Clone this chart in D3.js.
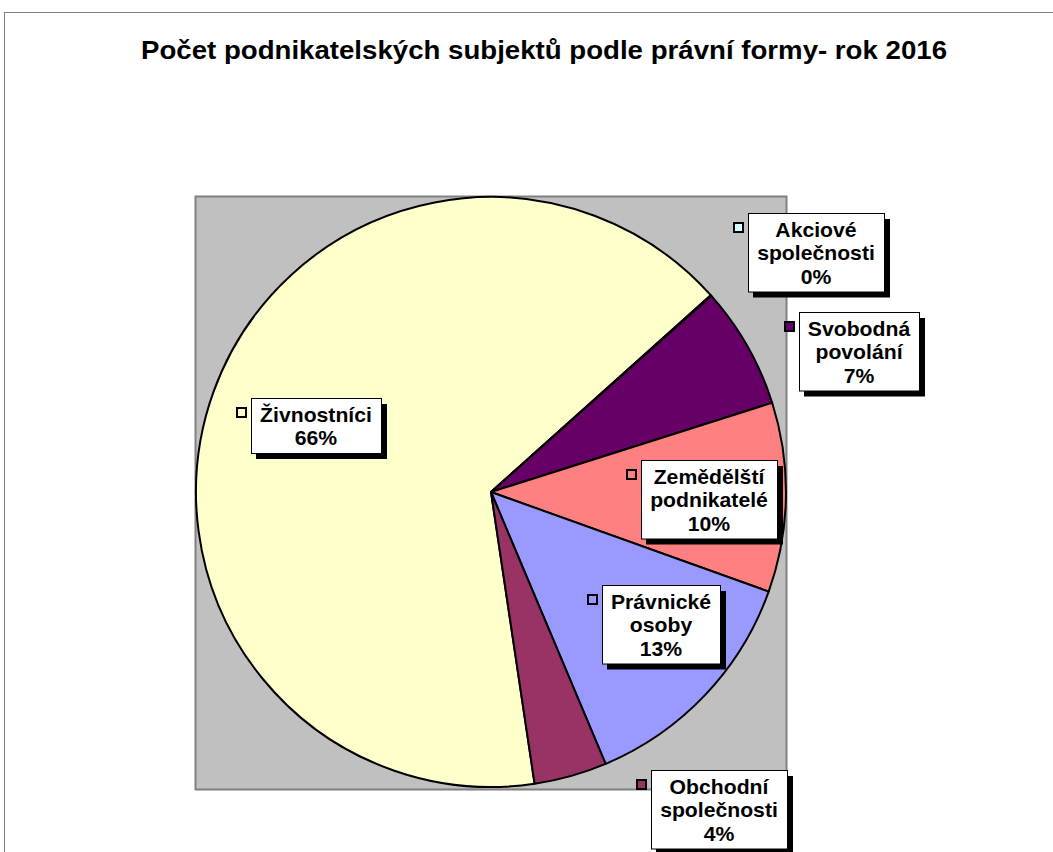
<!DOCTYPE html>
<html>
<head>
<meta charset="utf-8">
<script src="https://cdn.jsdelivr.net/npm/d3@7"></script>
<style>
  body { margin: 0; background: #fff; }
  svg { display: block; font-family: "Liberation Sans", Arial, sans-serif; }
</style>
</head>
<body>
<div id="chart"></div>
<script>
// data
const categories = ["Živnostníci", "Akciové společnosti", "Svobodná povolání", "Zemědělští podnikatelé", "Právnické osoby", "Obchodní společnosti"]
const labelLines = [["Živnostníci"], ["Akciové", "společnosti"], ["Svobodná", "povolání"], ["Zemědělští", "podnikatelé"], ["Právnické", "osoby"], ["Obchodní", "společnosti"]]
const counts = [6590, 5, 670, 1040, 1320, 400]
const colors = ["#FFFFCC", "#CCFFFF", "#660066", "#FF8080", "#9999FF", "#993366"]

// label box layout (top-left corner of each box), like manually placed excel labels
const labelBoxes = {
    "Živnostníci": [251, 398],
    "Akciové společnosti": [748, 213],
    "Svobodná povolání": [799, 312],
    "Zemědělští podnikatelé": [641, 460],
    "Právnické osoby": [602, 585],
    "Obchodní společnosti": [651, 770]
}

let width = 1053, height = 852
let cx = 491, cy = 492, r = 295

let svg = d3.select("#chart").append("svg")
    .attr("width", width)
    .attr("height", height)

// outer chart border
svg.append("rect")
    .attr("x", 4.5).attr("y", 12.5)
    .attr("width", 1100).attr("height", 900)
    .attr("fill", "#fff")
    .attr("stroke", "#808080")
    .attr("stroke-width", 1)

svg.append("text")
    .text("Počet podnikatelských subjektů podle právní formy- rok 2016")
    .attr("x", 544)
    .attr("y", 59)
    .attr("text-anchor", "middle")
    .attr("font-size", 26)
    .attr("font-weight", "bold")
    .attr("textLength", 806)
    .attr("lengthAdjust", "spacingAndGlyphs")
    .attr("fill", "#000")

// plot area
svg.append("rect")
    .attr("x", cx - r - 0.5).attr("y", cy - r - 0.5)
    .attr("width", 2 * r + 1).attr("height", 2 * r + 3)
    .attr("fill", "#C0C0C0")
    .attr("stroke", "#808080")
    .attr("stroke-width", 2)

const total = d3.sum(counts)
const start = 171.5 * Math.PI / 180

let pie = d3.pie().sort(null).value(d => d)
    .startAngle(start).endAngle(start + 2 * Math.PI)
let arc = d3.arc().innerRadius(0).outerRadius(r)

let g = svg.append("g").attr("transform", "translate(" + cx + "," + cy + ")")

g.selectAll(".slice")
    .data(pie(counts))
    .enter().append("path")
    .attr("class", "slice")
    .attr("d", arc)
    .attr("fill", (d, i) => colors[i])
    .attr("stroke", "#000")
    .attr("stroke-width", 2)
    .attr("stroke-linejoin", "round")

// data labels
const lineH = 23.5
categories.forEach((cat, i) => {
    let lines = labelLines[i].concat([Math.round(counts[i] / total * 100) + "%"])
    let [bx, by] = labelBoxes[cat]
    let lg = svg.append("g")
    let shadow = lg.append("rect").attr("fill", "#000")
    let box = lg.append("rect").attr("fill", "#fff").attr("stroke", "#000").attr("stroke-width", 1)
    let texts = lg.selectAll("text").data(lines).enter().append("text")
        .text(d => d)
        .attr("y", (d, j) => by + 24 + j * lineH)
        .attr("text-anchor", "middle")
        .attr("font-size", 20)
        .attr("font-weight", "bold")
        .attr("fill", "#000")
    let maxW = d3.max(texts.nodes(), n => n.getComputedTextLength())
    let bw = Math.round(maxW * 1.06 + 18)
    let bh = lines.length * lineH + 8
    texts.attr("x", bx + bw / 2)
        .attr("transform", function () {
            let mx = bx + bw / 2
            return "translate(" + mx + ",0) scale(1.06,1) translate(" + (-mx) + ",0)"
        })
    box.attr("x", bx + 0.5).attr("y", by + 0.5).attr("width", bw).attr("height", bh)
    shadow.attr("x", bx + 5).attr("y", by + 6).attr("width", bw + 1).attr("height", bh)
    // legend key
    lg.append("rect")
        .attr("x", bx - 14).attr("y", by + 10)
        .attr("width", 9).attr("height", 9)
        .attr("fill", colors[i])
        .attr("stroke", "#000")
        .attr("stroke-width", 2)
})
</script>
</body>
</html>
